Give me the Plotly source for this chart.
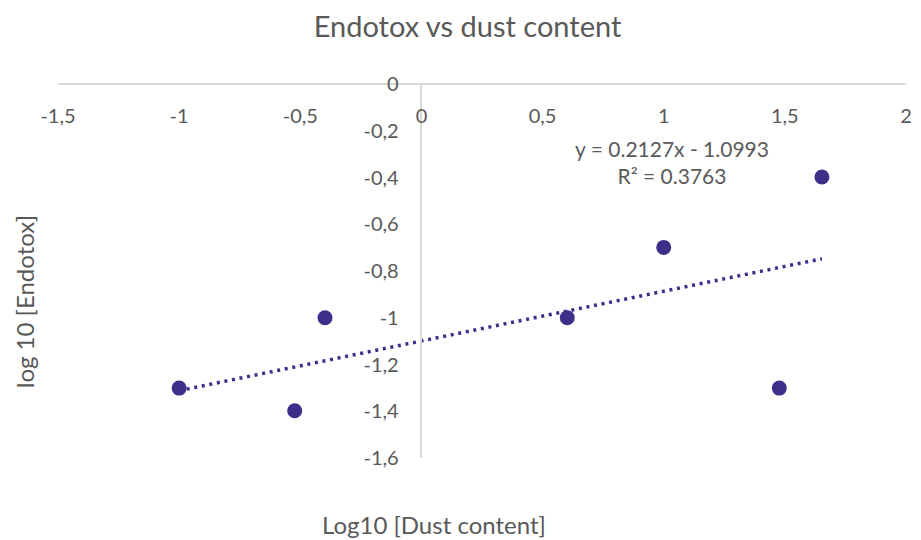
import plotly.graph_objects as go

# Data (log10 values)
log_dust = [-1.0, -0.523, -0.398, 0.602, 1.0, 1.477, 1.653]
log_endotox = [-1.301, -1.398, -1.0, -1.0, -0.699, -1.301, -0.398]

# Linear trendline (as given in the chart)
slope = 0.2127
intercept = -1.0993
r_squared = 0.3763
trend_x = [min(log_dust), max(log_dust)]
trend_y = [slope * v + intercept for v in trend_x]

x_ticks = [-1.5, -1, -0.5, 0, 0.5, 1, 1.5, 2]
x_tick_labels = ["-1,5", "-1", "-0,5", "0", "0,5", "1", "1,5", "2"]
y_ticks = [0, -0.2, -0.4, -0.6, -0.8, -1, -1.2, -1.4, -1.6]
y_tick_labels = ["0", "-0,2", "-0,4", "-0,6", "-0,8", "-1", "-1,2", "-1,4", "-1,6"]

COLOR = "#3B2F8A"
TEXT = "#595959"
AXIS = "#D9D9D9"
FONT = "Lato"

fig = go.Figure()
fig.add_trace(go.Scatter(
    x=trend_x, y=trend_y, mode="lines",
    line=dict(color=COLOR, width=3.5, dash="3px,4.7px"),
    showlegend=False, hoverinfo="skip"))
fig.add_trace(go.Scatter(
    x=log_dust, y=log_endotox, mode="markers",
    marker=dict(color=COLOR, size=15),
    showlegend=False))

fig.update_layout(
    width=921, height=540,
    margin=dict(l=58, r=9, t=84, b=82),
    plot_bgcolor="white", paper_bgcolor="white",
    separators=", ",
    font=dict(family=FONT, color=TEXT, size=16),
    title=dict(text="Endotox vs dust content", x=467.5 / 921, xanchor="center",
               y=1 - 27 / 540, yanchor="middle", yref="container",
               font=dict(family=FONT, size=29, color=TEXT)),
    xaxis=dict(range=[-1.5, 2], tickvals=x_ticks, ticktext=x_tick_labels,
               showgrid=False, zeroline=False,
               showline=True, linecolor=AXIS, linewidth=1.5,
               anchor="free", position=1.0, side="bottom",
               ticks="", ticklabelstandoff=14,
               tickfont=dict(family=FONT, size=20, color=TEXT)),
    yaxis=dict(range=[-1.6, 0], tickvals=y_ticks, ticktext=y_tick_labels,
               showgrid=False, zeroline=False,
               showline=True, linecolor=AXIS, linewidth=1.5,
               anchor="free", position=1.5 / 3.5, side="left",
               ticks="", ticklabelstandoff=18,
               tickfont=dict(family=FONT, size=20, color=TEXT)),
)

fig.add_annotation(text="Log10 [Dust content]", xref="paper", yref="paper",
                   x=(437 - 58) / (912 - 58), y=-(524 - 458) / 374,
                   xanchor="center", yanchor="middle", showarrow=False,
                   font=dict(family=FONT, size=24, color=TEXT))
fig.add_annotation(text="log 10 [Endotox]", xref="paper", yref="paper",
                   x=(24 - 58) / (912 - 58), y=(458 - 302) / 374,
                   xanchor="center", yanchor="middle", showarrow=False, textangle=-90,
                   font=dict(family=FONT, size=24, color=TEXT))
fig.add_annotation(text=f"y = {slope}x - {abs(intercept)}<br>R² = {r_squared}",
                   xref="paper", yref="paper",
                   x=(676 - 58) / (912 - 58), y=(458 - 162) / 374,
                   xanchor="center", yanchor="middle", showarrow=False, align="center",
                   font=dict(family=FONT, size=21, color=TEXT))

fig.write_html("out.html")
